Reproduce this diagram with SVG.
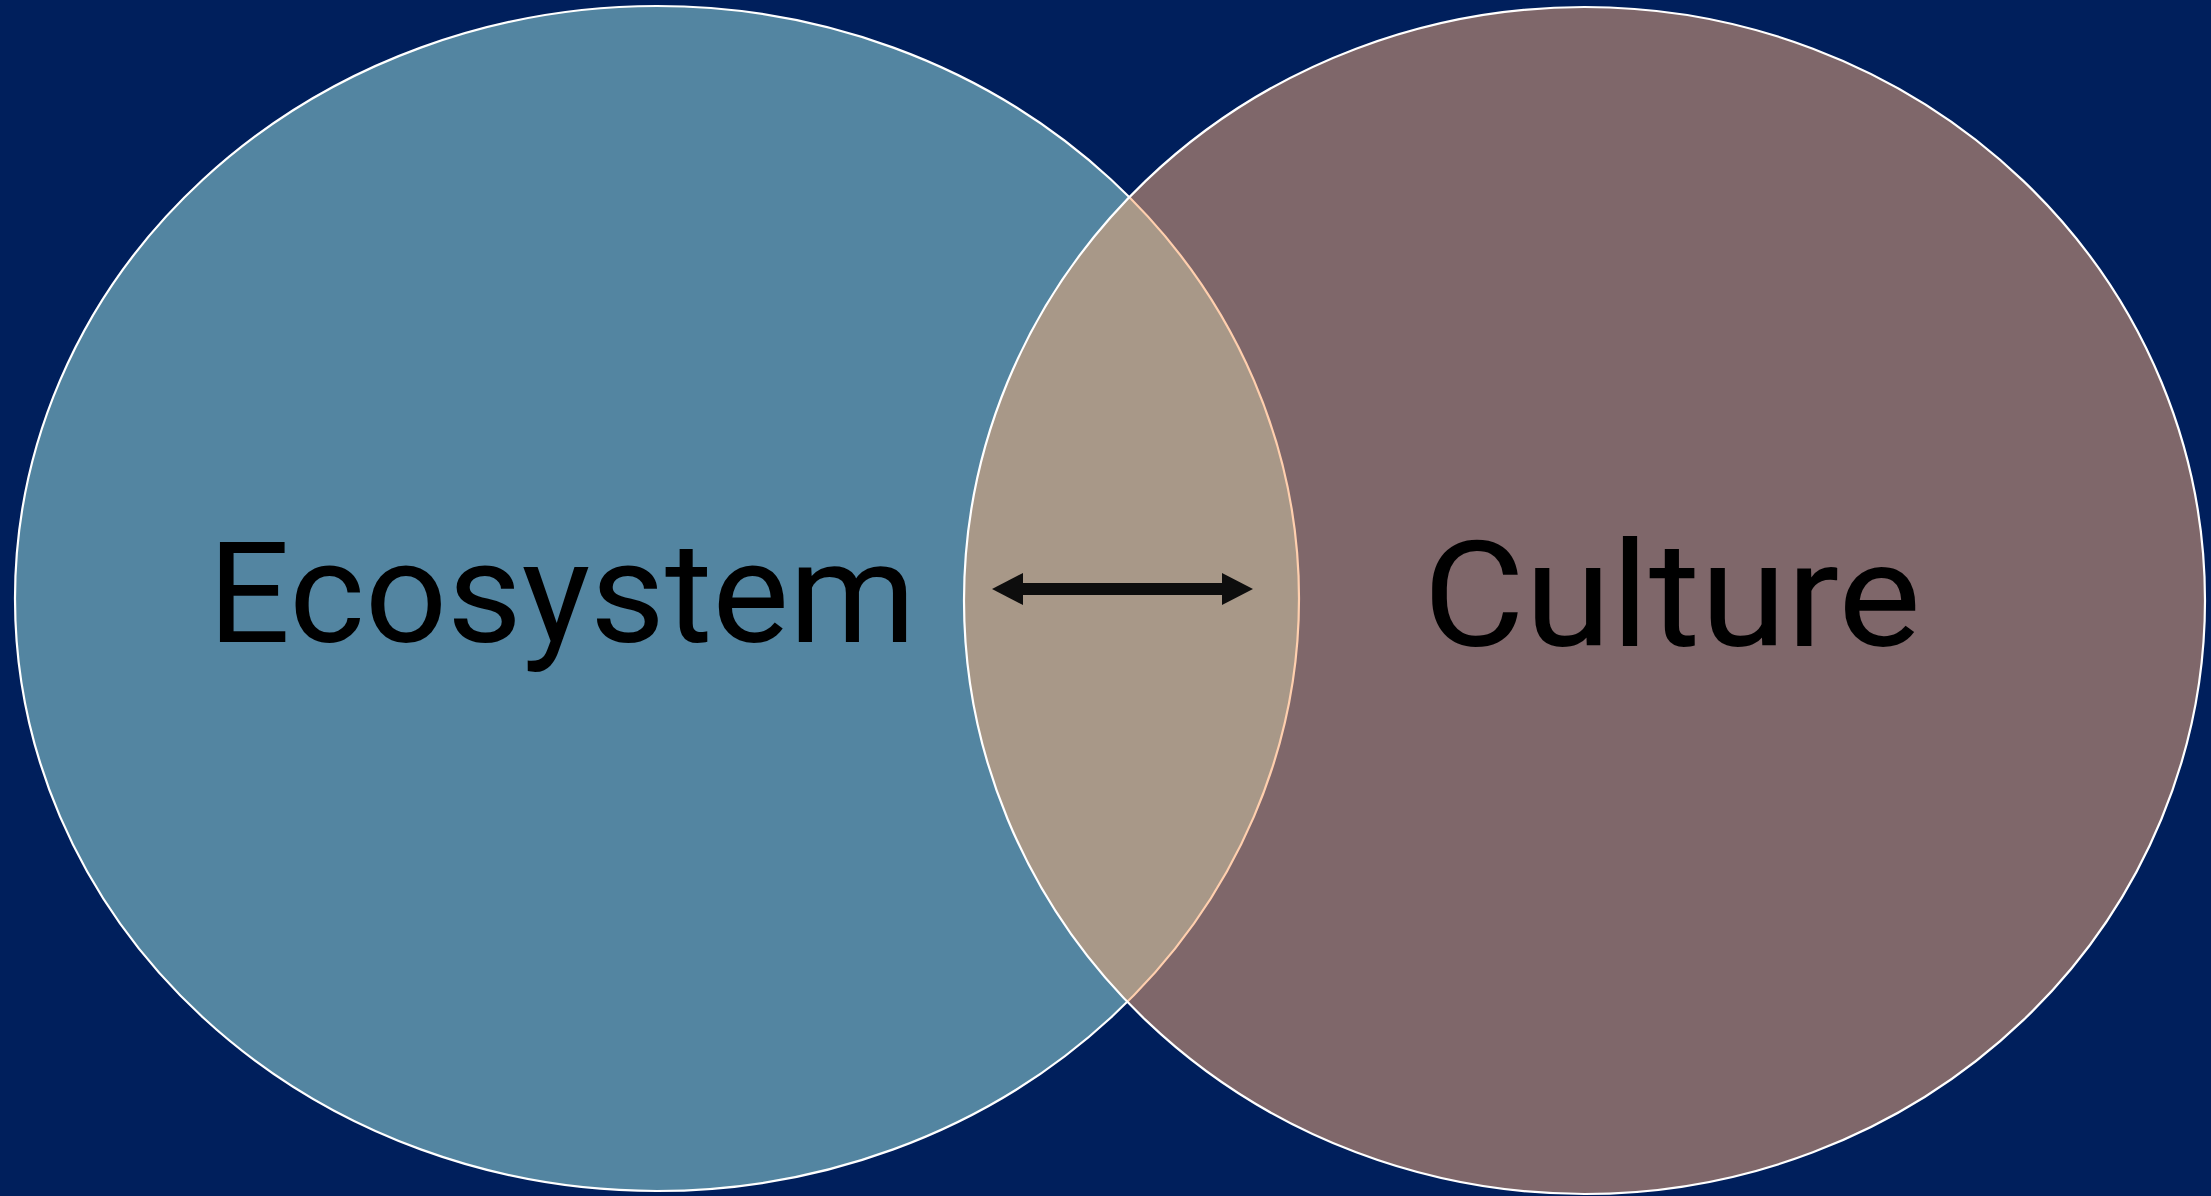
<svg xmlns="http://www.w3.org/2000/svg" width="2211" height="1196" viewBox="0 0 2211 1196">
  <style>
    .label { font-family: Roboto, "Liberation Sans", Arial, sans-serif; fill: #000000; }
    .edge { stroke: #ffffff; stroke-width: 2.2; }
  </style>
  <defs>
    <clipPath id="clipRight">
      <ellipse cx="1584.5" cy="600.5" rx="620.5" ry="593.5"/>
    </clipPath>
    <marker id="head" viewBox="0 0 31 32" refX="0" refY="16" markerWidth="31" markerHeight="32" markerUnits="userSpaceOnUse" orient="auto-start-reverse">
      <path d="M0,0 L31,16 L0,32 Z" fill="#0d0d0d"/>
    </marker>
  </defs>
  <rect x="0" y="0" width="2211" height="1196" fill="#001f5c"/>

  <g id="ecosystem">
    <ellipse cx="657" cy="598.5" rx="642" ry="592.5" fill="#5385a1" class="edge"/>
  </g>
  <g id="culture">
    <ellipse cx="1584.5" cy="600.5" rx="620.5" ry="593.5" fill="#7f676a"/>
    <g clip-path="url(#clipRight)">
      <ellipse cx="657" cy="598.5" rx="642" ry="592.5" fill="#a89888" stroke="#ffcfae" stroke-width="2.2"/>
    </g>
    <ellipse cx="1584.5" cy="600.5" rx="620.5" ry="593.5" fill="none" class="edge"/>
  </g>

  <g id="labels">
    <text class="label" x="208" y="642" font-size="141" textLength="708" lengthAdjust="spacingAndGlyphs">Ecosystem</text>
    <text class="label" x="1423" y="646" font-size="146" textLength="498" lengthAdjust="spacingAndGlyphs">Culture</text>
  </g>

  <g id="connectors">
    <line x1="1023" y1="589" x2="1222" y2="589" stroke="#0d0d0d" stroke-width="12" marker-start="url(#head)" marker-end="url(#head)"/>
  </g>
</svg>
